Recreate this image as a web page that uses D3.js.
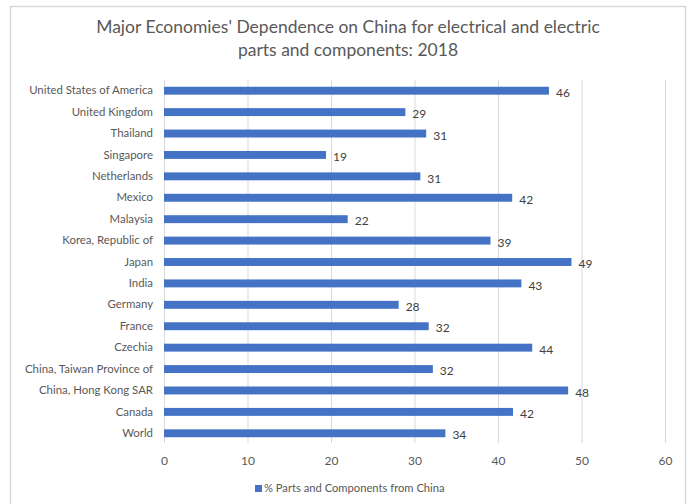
<!DOCTYPE html>
<html>
<head>
<meta charset="utf-8">
<script src="https://cdn.jsdelivr.net/npm/d3@7"></script>
<style>
  body { margin: 0; background: #fff; }
  text { font-family: Lato, "Open Sans", sans-serif; }
</style>
</head>
<body>
<svg id="chart" width="688" height="504"></svg>
<script>
// categories, top to bottom as drawn
const countries = ['United States of America', 'United Kingdom', 'Thailand', 'Singapore', 'Netherlands',
  'Mexico', 'Malaysia', 'Korea, Republic of', 'Japan', 'India', 'Germany', 'France', 'Czechia',
  'China, Taiwan Province of', 'China, Hong Kong SAR', 'Canada', 'World']
// % parts and components from China
const shares = [46.1, 28.9, 31.4, 19.4, 30.7, 41.7, 22.0, 39.1, 48.8, 42.8, 28.1, 31.7, 44.1, 32.2, 48.4, 41.8, 33.7]
const xTicks = [0, 10, 20, 30, 40, 50, 60]
const titleLines = ["Major Economies' Dependence on China for electrical and electric", 'parts and components: 2018']
const seriesName = '% Parts and Components from China'

const svg = d3.select('#chart')
const blue = '#4472c4', grey = '#595959'

// chart frame
svg.append('rect')
  .attr('x', 10.5).attr('y', 6.5).attr('width', 675).attr('height', 505)
  .attr('fill', 'none').attr('stroke', '#d9d9d9').attr('stroke-width', 1.5)

// title
svg.append('g').selectAll('text')
  .data(titleLines)
  .join('text')
  .attr('x', 348).attr('y', (d, i) => 33 + i * 23)
  .attr('text-anchor', 'middle')
  .attr('font-size', 17.5)
  .attr('fill', grey)
  .text(d => d)

let scX = d3.scaleLinear().domain([0, 60]).range([164, 665])
let scY = d3.scaleBand().domain(countries).range([80, 444]).paddingInner(0.63).paddingOuter(0.315)

// grid
const grid = d3.axisBottom(scX).tickValues(xTicks).tickSize(-(443 - 80)).tickFormat('')
svg.append('g')
  .attr('transform', 'translate(0, 443)')
  .call(grid)
  .call(g => g.select('.domain').remove())
  .selectAll('line').attr('stroke', '#d9d9d9')

// x tick labels
const xAxis = d3.axisBottom(scX).tickValues(xTicks).tickSize(0).tickPadding(0)
svg.append('g')
  .attr('transform', 'translate(0, 456)')
  .call(xAxis)
  .call(g => g.select('.domain').remove())
  .selectAll('text')
  .attr('font-size', 12).attr('fill', grey)
  .attr('font-family', null)

// category labels
const yAxis = d3.axisLeft(scY).tickSize(0).tickPadding(11)
svg.append('g')
  .attr('transform', 'translate(164, 0)')
  .call(yAxis)
  .call(g => g.select('.domain').remove())
  .selectAll('text')
  .attr('font-size', 11.4).attr('fill', grey)
  .attr('font-family', null)

// bars
svg.append('g').selectAll('rect')
  .data(shares)
  .join('rect')
  .attr('x', scX(0))
  .attr('y', (d, i) => scY(countries[i]))
  .attr('width', d => scX(d) - scX(0))
  .attr('height', scY.bandwidth())
  .attr('fill', blue)

// value labels
svg.append('g').selectAll('text')
  .data(shares)
  .join('text')
  .attr('x', d => scX(d) + 7)
  .attr('y', (d, i) => scY(countries[i]) + scY.bandwidth() / 2 + 2)
  .attr('dy', '0.35em')
  .attr('font-size', 12)
  .attr('fill', '#404040')
  .text(d => d3.format('.0f')(d))

// legend
const legend = svg.append('g').attr('transform', 'translate(255, 485)')
legend.append('rect').attr('x', 0).attr('y', 0).attr('width', 7).attr('height', 7).attr('fill', blue)
legend.append('text')
  .attr('x', 9).attr('y', 3.5).attr('dy', '0.35em')
  .attr('font-size', 11.2).attr('fill', grey)
  .text(seriesName)
</script>
</body>
</html>
